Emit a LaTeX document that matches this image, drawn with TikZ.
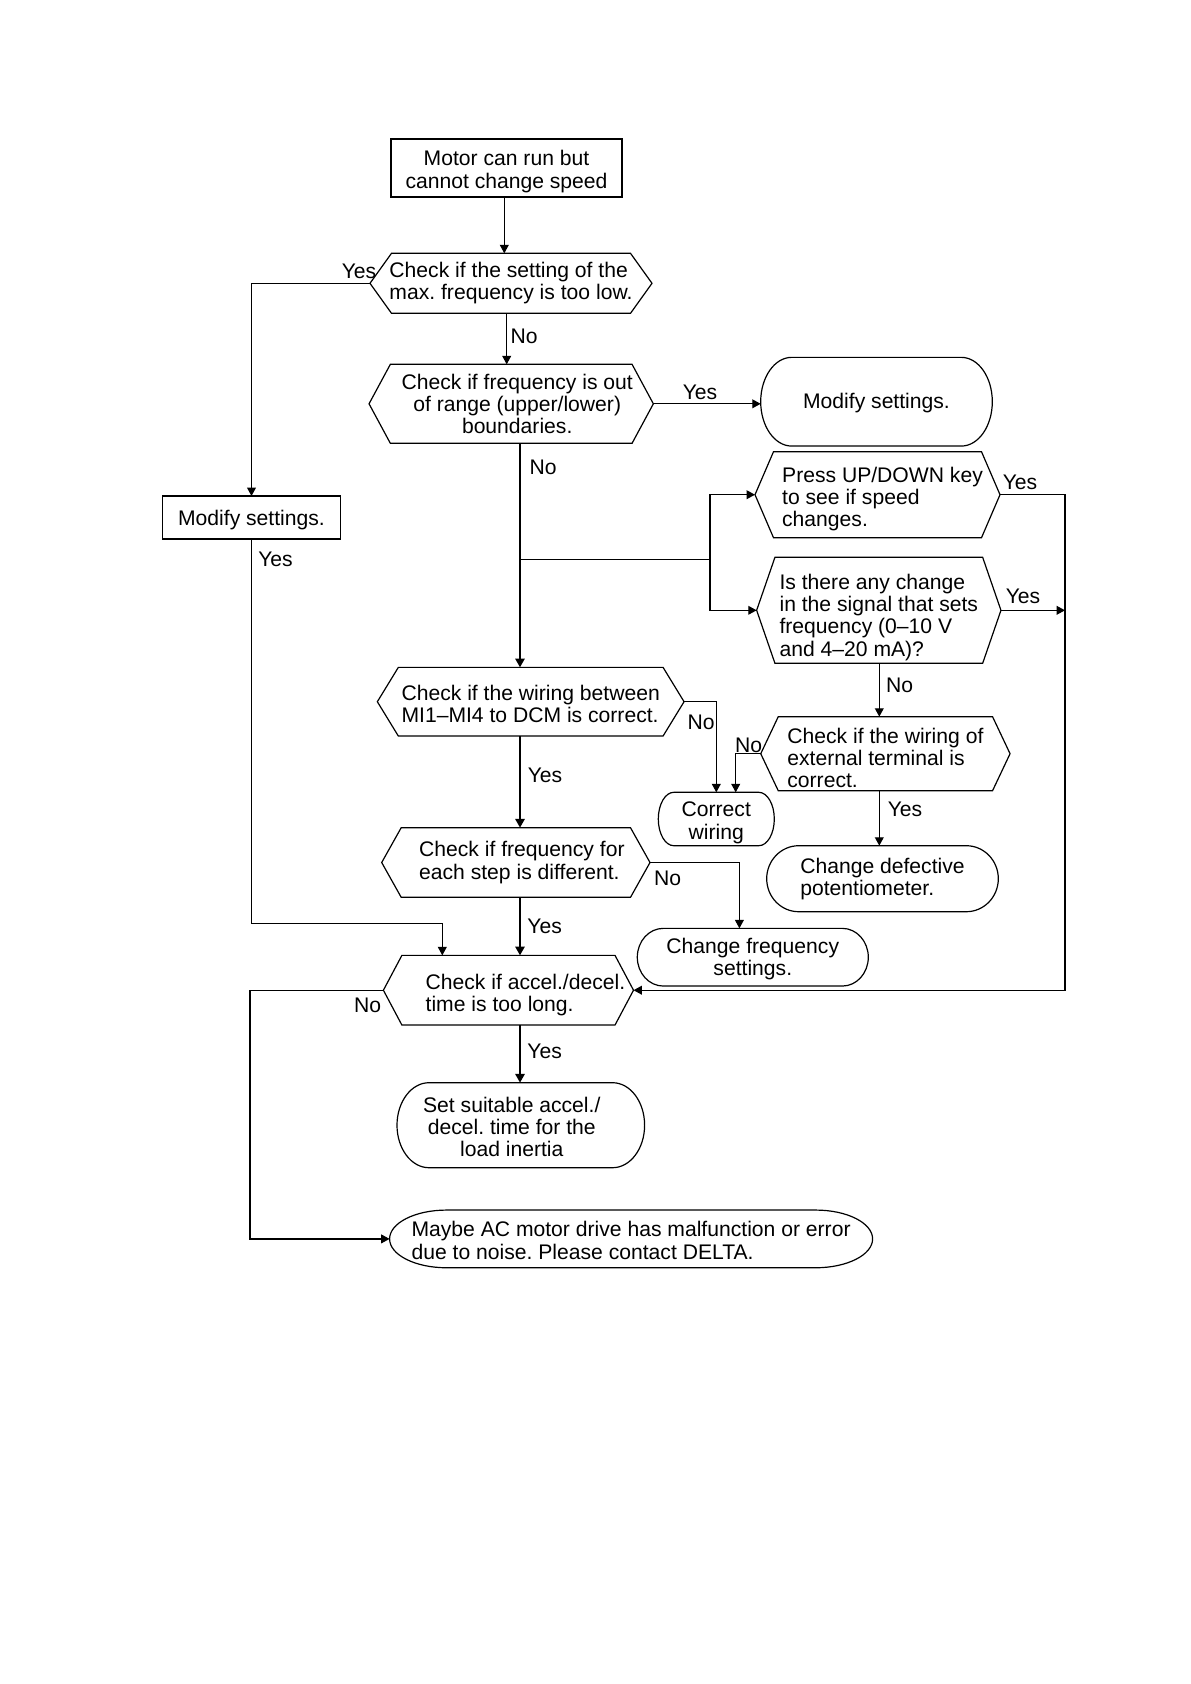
\documentclass[tikz,border=0pt]{standalone}
\usepackage{fontspec}
\setmainfont{Liberation Sans}
\usetikzlibrary{arrows.meta,calc}
\tikzset{
 base/.style={inner sep=0pt, outer sep=0pt, font=\fontsize{10.6}{11.1}\selectfont\frenchspacing},
 rbox/.style={base, draw, line width=0.55bp, rectangle},
 shp/.style={line width=0.6bp},
 hexn/.style={base, rectangle},
 lbl/.style={base},
 ln/.style={line width=0.6bp},
 arr/.style={ln, -{Triangle[length=4.2bp,width=4.4bp]}},
 tarr/.style={line width=1.1bp, -{Triangle[length=4.4bp,width=4.6bp]}},
}
\newcommand\hexo[2]{\draw[shp] (#1.west) -- ([xshift=#2bp]#1.north west) -- ([xshift=-#2bp]#1.north east) -- (#1.east) -- ([xshift=-#2bp]#1.south east) -- ([xshift=#2bp]#1.south west) -- cycle;}
\newcommand\stad[3]{\draw[shp] ([xshift=#2bp]#1.north west) -- ([xshift=-#2bp]#1.north east) arc[start angle=90,end angle=-90,x radius=#2bp,y radius=#3bp] -- ([xshift=#2bp]#1.south west) arc[start angle=270,end angle=90,x radius=#2bp,y radius=#3bp] -- cycle;}
\newcommand\dn[1]{\rule{0pt}{\dimexpr7.7bp+#1bp\relax}}
\begin{document}
\begin{tikzpicture}[x=0.5bp,y=-0.5bp]
\fill[white] (0,0) rectangle (1191,1684);
\useasboundingbox (0,0) rectangle (1191,1684);

% nodes
\node[rbox, minimum width=115.5bp, minimum height=29bp, align=center] (top) at (506.5,168) {\dn{3.5}Motor can run but\\cannot change speed};
\node[hexn, minimum width=141bp, minimum height=30bp, align=left] (h1) at (511,283.3) {Check if the setting of the\\max. frequency is too low.};
\hexo{h1}{10.75}
\node[hexn, minimum width=142.15bp, minimum height=39.5bp, align=center] (h2) at (511.2,403.8) {\hspace*{6bp}Check if frequency is out\\\hspace*{6bp}of range (upper/lower)\\\hspace*{6bp}boundaries.};
\hexo{h2}{10.65}
\node[hexn, minimum width=115.8bp, minimum height=44.35bp] (m2) at (876.5,401.7) {\dn{1.5}Modify settings.};
\stad{m2}{15.5}{22.175}
\node[rbox, minimum width=89.25bp, minimum height=21.5bp] (m1) at (251.5,517.5) {\dn{2}Modify settings.};
\node[hexn, minimum width=122.5bp, minimum height=43bp, align=left] (h3) at (877.5,494.7) {\dn{4}\hspace*{5bp}Press UP/DOWN key\\\hspace*{5bp}to see if speed\\\hspace*{5bp}changes.};
\hexo{h3}{9.25}
\node[hexn, minimum width=122.15bp, minimum height=53bp, align=left] (h4) at (878.8,610.3) {\dn{7}Is there any change\\in the signal that sets\\frequency (0–10 V\\and 4–20 mA)?};
\hexo{h4}{9.15}
\node[hexn, minimum width=153.35bp, minimum height=34.35bp, align=left] (h5) at (530.7,701.7) {\dn{2.5}Check if the wiring between\\MI1–MI4 to DCM is correct.};
\hexo{h5}{10.5}
\node[hexn, minimum width=124.65bp, minimum height=37bp, align=left] (h6) at (885.4,753.7) {\dn{4}Check if the wiring of\\external terminal is\\correct.};
\hexo{h6}{8.75}
\node[hexn, minimum width=58bp, minimum height=26.7bp, align=center] (cw) at (716.3,819) {\dn{3.5}Correct\\wiring};
\stad{cw}{7.75}{13.35}
\node[hexn, minimum width=115.8bp, minimum height=33bp, align=left] (cd) at (882.5,878.7) {Change defective\\potentiometer.};
\stad{cd}{16}{16.5}
\node[hexn, minimum width=134.15bp, minimum height=34.8bp, align=left] (h7) at (515.85,862.5) {\hspace*{6bp}Check if frequency for\\\hspace*{6bp}each step is different.};
\hexo{h7}{9.75}
\node[hexn, minimum width=115.5bp, minimum height=28.85bp, align=center] (cf) at (752.8,957.2) {\dn{2}Change frequency\\settings.};
\stad{cf}{13}{14.425}
\node[hexn, minimum width=125.05bp, minimum height=34.85bp, align=left] (h8) at (508.45,990.2) {\dn{5}\hspace*{17bp}Check if accel./decel.\\\hspace*{17bp}time is too long.};
\hexo{h8}{9.25}
\node[hexn, minimum width=123.8bp, minimum height=42.5bp, align=center] (ss) at (520.8,1125.2) {\dn{2}\hspace*{-9bp}Set suitable accel./\\\hspace*{-9bp}decel. time for the\\\hspace*{-9bp}load inertia};
\stad{ss}{16}{21.25}
\node[hexn, minimum width=241.5bp, minimum height=28.85bp, align=left] (fin) at (631.1,1238.9) {\dn{1.5}Maybe AC motor drive has malfunction or error\\due to noise. Please contact DELTA.};
\stad{fin}{28.5}{14.425}

% helper coordinates
\coordinate (ax1) at (504.3,0);
\coordinate (ax2) at (506.7,0);
\coordinate (j1) at (520,559.3);
\coordinate (j2) at (710,559.3);
\coordinate (rc) at (1065,0);
\coordinate (vx) at (879.3,0);
\coordinate (lc) at (442.3,923.3);
\coordinate (lx) at (250,0);

% connectors
\draw[arr] (ax1 |- top.south) -- (ax1 |- h1.north);
\draw[arr] (h1.west) -| (m1.north);
\draw[arr] (ax2 |- h1.south) -- (ax2 |- h2.north);
\draw[arr] (h2.east) -- (h2.east -| m2.west);
\draw[tarr] (j1 |- h2.south) -- (j1 |- h5.north);
\draw[ln] (j1) -- (j2);
\draw[arr] (j2) |- (h3.west);
\draw[arr] (j2) |- (h4.west);
\draw[arr] (h3.east) -- (h3.east -| rc) -- (rc |- h8.east) -- (h8.east);
\draw[arr] (h4.east) -- (h4.east -| rc);
\draw[arr] (vx |- h4.south) -- (vx |- h6.north);
\draw[arr] (h5.east) -| (cw.north);
\draw[arr] (h6.west) -| ([xshift=9.7bp]cw.north);
\draw[arr] (vx |- h6.south) -- (vx |- cd.north);
\draw[tarr] (j1 |- h5.south) -- (j1 |- h7.north);
\draw[arr] (h7.east) -| ([xshift=-6.7bp]cf.north);
\draw[tarr] (j1 |- h7.south) -- (j1 |- h8.north);
\draw[arr] (m1.south) |- (lc) -- (lc |- h8.north);
\draw[arr] (h8.west) -- (lx |- h8.west) |- (fin.west);
\draw[tarr] (j1 |- h8.south) -- (j1 |- ss.north);

% labels
\node[lbl] (y1) at (359,271.5) {Yes};
\node[lbl] (n1) at (524,336.7) {No};
\node[lbl] (y2) at (700,392.3) {Yes};
\node[lbl] (n2) at (543,467) {No};
\node[lbl] (y3) at (1020,482.7) {Yes};
\node[lbl] (y4) at (1023,596) {Yes};
\node[lbl] (n3) at (899.7,685) {No};
\node[lbl] (n4) at (701,722.7) {No};
\node[lbl] (n5) at (748.7,745) {No};
\node[lbl] (y5) at (905,809.3) {Yes};
\node[lbl] (y6) at (545,775.7) {Yes};
\node[lbl] (n6) at (667.5,878) {No};
\node[lbl] (y7) at (544.7,926.7) {Yes};
\node[lbl] (y8) at (275.5,559) {Yes};
\node[lbl] (n7) at (367.5,1005) {No};
\node[lbl] (y9) at (544.7,1051.7) {Yes};
\end{tikzpicture}
\end{document}
